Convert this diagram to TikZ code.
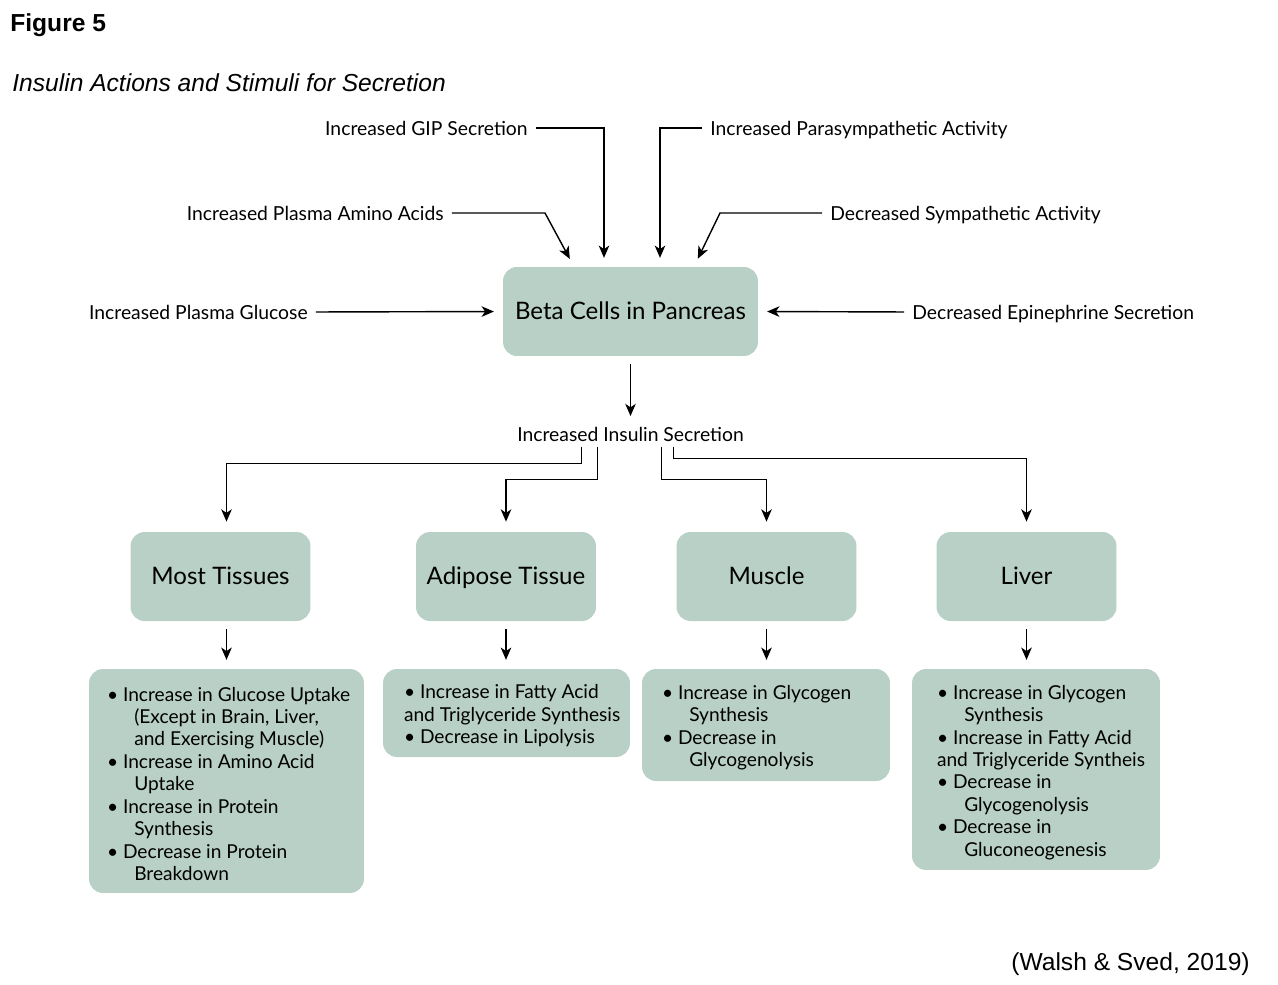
\documentclass[tikz,border=0pt]{standalone}
\usepackage{fontspec}
\setmainfont{Lato}
\newfontfamily\arialfont{Liberation Sans}
\usetikzlibrary{arrows.meta}
\definecolor{boxgreen}{HTML}{B8D0C5}
\newcommand{\listindent}{\hspace*{15.5pt}}

\begin{document}
\begin{tikzpicture}[x=0.02cm, y=-0.02cm]
	\tikzstyle{label} = [inner sep=0pt, text height=8pt, text depth=0pt, font=\fontsize{11}{13}\selectfont]
	\tikzstyle{organ} = [fill=boxgreen, rounded corners=8pt, minimum height=1.78cm, text height=10.5pt, text depth=1pt, font=\fontsize{13.7}{16}\selectfont]
	\tikzstyle{effects} = [fill=boxgreen, rounded corners=8pt]
	\tikzstyle{effecttext} = [anchor=west, align=left, inner sep=0pt, yshift=-1.6pt, font=\fontsize{10.9}{12.75}\selectfont]
	\tikzstyle{arr} = [-{Stealth[length=7pt, width=6pt, inset=2pt]}, line width=0.8pt, shorten <=4.5pt, shorten >=5pt]

	\useasboundingbox (0,0) rectangle (1278,984);

	% headings
	\node[anchor=base west, inner sep=0pt, font=\arialfont\bfseries\fontsize{14}{16}\selectfont] (fig) at (10,31) {Figure 5};
	\node[anchor=base west, inner sep=0pt, font=\arialfont\itshape\fontsize{14}{16}\selectfont] (title) at (12,91) {Insulin Actions and Stimuli for Secretion};
	\node[anchor=base east, inner sep=0pt, font=\arialfont\fontsize{14}{16}\selectfont] (credit) at (1250,970) {(Walsh \& Sved, 2019)};

	% beta cells and stimuli
	\node[organ, minimum width=5.1cm] (beta) at (630.5,311.5) {Beta Cells in Pancreas};

	\node[label, anchor=east] (gip) at (528,128) {Increased GIP Secretion};
	\node[label, anchor=west] (para) at (710,128) {Increased Parasympathetic Activity};
	\node[label, anchor=east] (amino) at (444,213) {Increased Plasma Amino Acids};
	\node[label, anchor=west] (symp) at (830,213) {Decreased Sympathetic Activity};
	\node[label, anchor=east] (glucose) at (308,312) {Increased Plasma Glucose};
	\node[label, anchor=west] (epi) at (912,312) {Decreased Epinephrine Secretion};

	\draw[arr] (gip.east) -| ([xshift=-0.53cm]beta.north);
	\draw[arr] (para.west) -| ([xshift=0.59cm]beta.north);
	\draw[arr] (amino.east) -- ++(101,0) -- ([xshift=-1.13cm]beta.north);
	\draw[arr] (symp.west) -- ++(-110,0) -- ([xshift=1.27cm]beta.north);
	\draw[arr] (glucose.east) -- (beta.west);
	\draw[arr] (epi.west) -- (beta.east);

	% secretion
	\node[label] (insulin) at (630.5,434) {Increased Insulin Secretion};
	\draw[arr, shorten >=6pt] (beta.south) -- (insulin.north);

	% target tissues
	\foreach \name/\text/\x in {most/Most Tissues/220.5, adipose/Adipose Tissue/506, muscle/Muscle/766.5, liver/Liver/1026.5}
		\node[organ, minimum width=3.6cm] (\name) at (\x,576.5) {\text};

	\foreach \dx/\dy/\to/\sx in {-49/22/most/0.12, -33/38/adipose/0, 31/38/muscle/0, 43/17/liver/0}
		\draw[arr, shorten <=3pt, shorten >=5.7pt] ([xshift=\dx*0.02cm]insulin.south) -- ++(0,\dy) -| ([xshift=\sx cm]\to.north);

	% effects
	\node[effects, minimum width=5.5cm, minimum height=4.48cm] (mostlist) at (226.5,781) {};
	\node[effects, minimum width=4.94cm, minimum height=1.76cm] (adiposelist) at (506.5,713) {};
	\node[effects, minimum width=4.96cm, minimum height=2.24cm] (musclelist) at (766,725) {};
	\node[effects, minimum width=4.96cm, minimum height=4.02cm] (liverlist) at (1036,769.5) {};

	\node[effecttext] (mosttext) at ([xshift=0.36cm]mostlist.west) {%
		\textbullet\ Increase in Glucose Uptake\\
		\listindent(Except in Brain, Liver,\\
		\listindent and Exercising Muscle)\\
		\textbullet\ Increase in Amino Acid\\
		\listindent Uptake\\
		\textbullet\ Increase in Protein\\
		\listindent Synthesis\\
		\textbullet\ Decrease in Protein\\
		\listindent Breakdown};
	\node[effecttext] (adiposetext) at ([xshift=0.42cm]adiposelist.west) {%
		\textbullet\ Increase in Fatty Acid\\
		and Triglyceride Synthesis\\
		\textbullet\ Decrease in Lipolysis};
	\node[effecttext] (muscletext) at ([xshift=0.4cm]musclelist.west) {%
		\textbullet\ Increase in Glycogen\\
		\listindent Synthesis\\
		\textbullet\ Decrease in\\
		\listindent Glycogenolysis};
	\node[effecttext] (livertext) at ([xshift=0.5cm]liverlist.west) {%
		\textbullet\ Increase in Glycogen\\
		\listindent Synthesis\\
		\textbullet\ Increase in Fatty Acid\\
		and Triglyceride Syntheis\\
		\textbullet\ Decrease in\\
		\listindent Glycogenolysis\\
		\textbullet\ Decrease in\\
		\listindent Gluconeogenesis};

	\foreach \from/\to/\sx in {most/mostlist/0.12, adipose/adiposelist/0, muscle/musclelist/0, liver/liverlist/0}
		\draw[arr] ([xshift=\sx cm]\from.south) -- ([xshift=\sx cm]\from.south |- \to.north);

\end{tikzpicture}
\end{document}
